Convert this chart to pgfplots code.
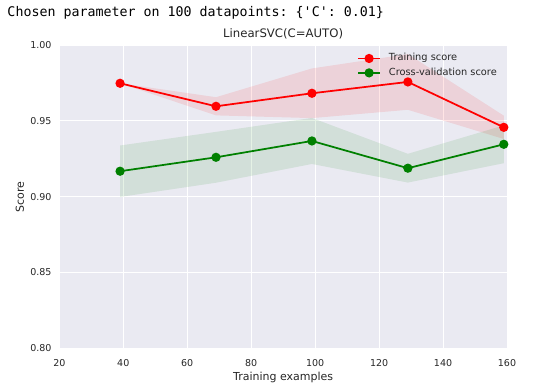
\documentclass[border=0pt]{standalone}
\usepackage{pgfplots}
\pgfplotsset{compat=1.18}
\usepackage{fontspec}
\setmainfont{DejaVu Sans}
\setmonofont{DejaVu Sans Mono}
\definecolor{bg}{HTML}{EAEAF2}
\definecolor{txt}{HTML}{262626}
\definecolor{lred}{HTML}{FF0000}
\definecolor{lgreen}{HTML}{008000}
\begin{document}
\begin{tikzpicture}
\useasboundingbox (-59.3pt,-38pt) rectangle (474.7pt,348pt);
\node[anchor=base west, inner sep=0pt, font=\ttfamily\fontsize{13.3}{15}\selectfont] at (-52pt,331pt) {Chosen parameter on 100 datapoints: \{'C': 0.01\}};
\begin{axis}[at={(0,0)}, anchor=south west, scale only axis,
  width=447.7pt, height=302.7pt,
  xmin=20, xmax=160, ymin=0.80, ymax=1.00,
  axis background/.style={fill=bg},
  axis line style={draw=none},
  major tick length=0pt,
  grid=major, grid style={white, line width=1pt},
  xtick={20,40,60,80,100,120,140,160},
  ytick={0.80,0.85,0.90,0.95,1.00},
  /pgf/number format/assume math mode=true,
  tick label style={font=\fontsize{9.5}{11}\selectfont, text=txt},
  yticklabel style={/pgf/number format/.cd, fixed, fixed zerofill, precision=2, /tikz/.cd, inner sep=0pt, xshift=-7.6pt},
  xticklabel style={inner sep=0pt, yshift=-11pt},
  title={LinearSVC(C=AUTO)},
  every axis title shift=0pt,
  title style={at={(0.5,1)}, anchor=base, yshift=7.6pt, inner sep=0pt, font=\fontsize{11.7}{13}\selectfont, text=txt},
  xlabel={Training examples},
  xlabel style={at={(0.5,0)}, anchor=base, yshift=-32pt, inner sep=0pt, font=\fontsize{11}{13}\selectfont, text=txt},
  legend cell align=left,
  legend style={draw=none, fill=none, inner sep=0pt, at={(0.665,0.972)}, anchor=north west,
    nodes={inner sep=0pt, text height=7pt, text depth=2pt},
    row sep=5.4pt, column sep=8pt, font=\fontsize{9.8}{11}\selectfont, text=txt},
  legend image code/.code={\draw[mark repeat=2,mark phase=2,#1] plot coordinates {(0pt,0pt) (11pt,0pt) (22pt,0pt)};},
]
% training band
\addplot[draw=none, fill=lred, fill opacity=0.1, forget plot] coordinates {
  (39,0.9749) (69,0.9657) (99,0.9847) (129,0.9942) (159,0.9535)
  (159,0.9381) (129,0.9574) (99,0.9519) (69,0.9537) (39,0.9749)} -- cycle;
% cv band
\addplot[draw=none, fill=lgreen, fill opacity=0.1, forget plot] coordinates {
  (39,0.9338) (69,0.9428) (99,0.9520) (129,0.9283) (159,0.9471)
  (159,0.9221) (129,0.9093) (99,0.9216) (69,0.9092) (39,0.8998)} -- cycle;
\addplot[lred, line width=1.75pt, mark=*, mark size=3.7pt, mark options={fill=lred, draw=none}] coordinates {
  (39,0.9749) (69,0.9597) (99,0.9683) (129,0.9758) (159,0.9458)};
\addlegendentry{Training score}
\addplot[lgreen, line width=1.75pt, mark=*, mark size=3.7pt, mark options={fill=lgreen, draw=none}] coordinates {
  (39,0.9168) (69,0.9260) (99,0.9368) (129,0.9188) (159,0.9346)};
\addlegendentry{Cross-validation score}
\end{axis}
\node[rotate=90, anchor=base, inner sep=0pt, font=\fontsize{11}{13}\selectfont, text=txt] at (-35.3pt,151.35pt) {Score};
\end{tikzpicture}
\end{document}
